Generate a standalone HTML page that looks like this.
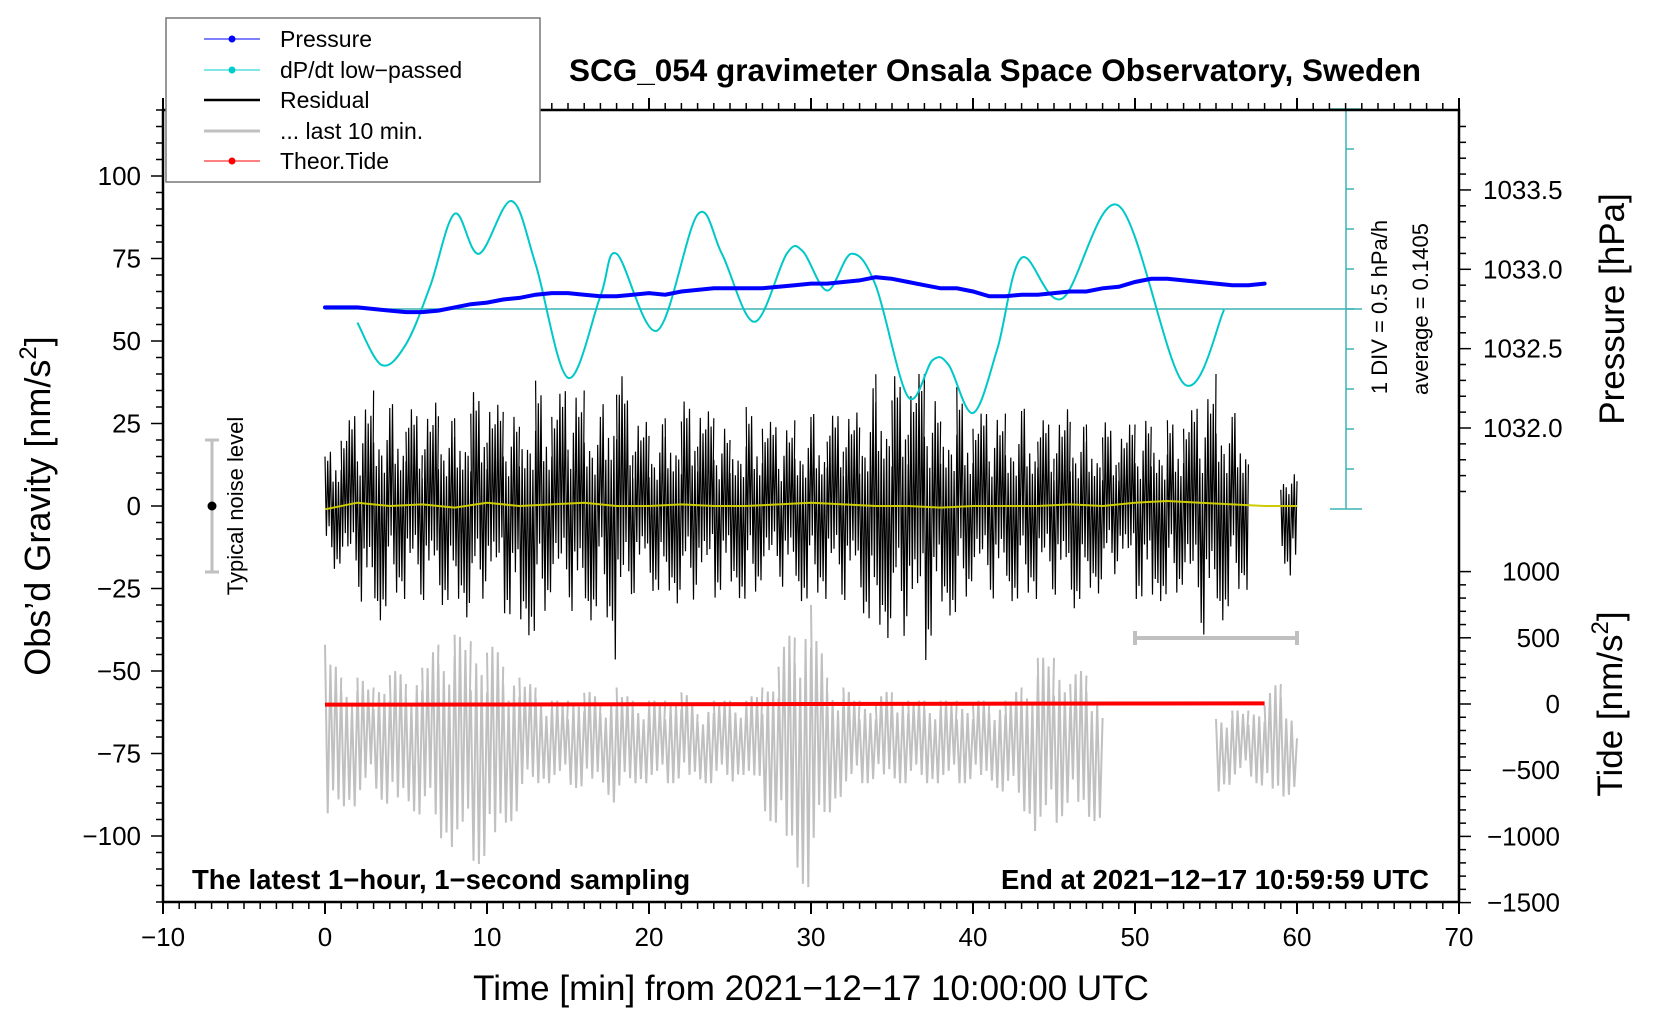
<!DOCTYPE html>
<html><head><meta charset="utf-8">
<style>
html,body{margin:0;padding:0;background:#fff;}
svg{display:block;font-family:"Liberation Sans",sans-serif;}
</style></head>
<body>
<svg id="chart" width="1660" height="1020" viewBox="0 0 1660 1020" xmlns="http://www.w3.org/2000/svg">
  <g id="series"></g>
  <rect x="163" y="110" width="1296" height="792" fill="none" stroke="#000" stroke-width="2.5"/>
  <g id="axes"></g>
  <text x="995" y="81" font-size="31.5" font-weight="bold" text-anchor="middle">SCG_054 gravimeter Onsala Space Observatory, Sweden</text>
  <text x="192" y="889" font-size="27.5" font-weight="bold">The latest 1−hour, 1−second sampling</text>
  <text x="1429" y="889" font-size="27.5" font-weight="bold" text-anchor="end">End at 2021−12−17 10:59:59 UTC</text>
  <text x="811" y="1000" font-size="35" text-anchor="middle">Time [min] from 2021−12−17 10:00:00 UTC</text>
  <text transform="translate(50,506) rotate(-90)" font-size="36" text-anchor="middle">Obs’d Gravity [nm/s<tspan font-size="24" dy="-14">2</tspan><tspan dy="14">]</tspan></text>
  <text transform="translate(1624,309) rotate(-90)" font-size="35" text-anchor="middle">Pressure [hPa]</text>
  <text transform="translate(1622,704) rotate(-90)" font-size="35" text-anchor="middle">Tide [nm/s<tspan font-size="24" dy="-14">2</tspan><tspan dy="14">]</tspan></text>
  <text transform="translate(1387,307) rotate(-90)" font-size="22" text-anchor="middle">1 DIV = 0.5 hPa/h</text>
  <text transform="translate(1428,309) rotate(-90)" font-size="22" text-anchor="middle">average = 0.1405</text>
  <text transform="translate(243,506) rotate(-90)" font-size="22" text-anchor="middle">Typical noise level</text>
  <g stroke="#c0c0c0" stroke-width="3">
    <line x1="212" y1="440" x2="212" y2="572"/><line x1="205" y1="440" x2="219" y2="440"/><line x1="205" y1="572" x2="219" y2="572"/>
  </g>
  <circle cx="212" cy="506" r="4.5" fill="#000"/>
  <g stroke="#c0c0c0" stroke-width="4">
    <line x1="1135" y1="638" x2="1297" y2="638"/><line x1="1135" y1="631" x2="1135" y2="645"/><line x1="1297" y1="631" x2="1297" y2="645"/>
  </g>
  <g>
    <rect x="166" y="18" width="374" height="164" fill="#fff" stroke="#777" stroke-width="1.5"/>
    <g><line x1="204" y1="39" x2="260" y2="39" stroke="#00f" stroke-width="1"/><circle cx="232" cy="39" r="3.5" fill="#00f"/><text x="280" y="47" font-size="23">Pressure</text></g>
    <g><line x1="204" y1="70" x2="260" y2="70" stroke="#00cccc" stroke-width="1"/><circle cx="232" cy="70" r="3.5" fill="#00cccc"/><text x="280" y="78" font-size="23">dP/dt low−passed</text></g>
    <g><line x1="204" y1="100" x2="260" y2="100" stroke="#000" stroke-width="2.5"/><text x="280" y="108" font-size="23">Residual</text></g>
    <g><line x1="204" y1="131" x2="260" y2="131" stroke="#c0c0c0" stroke-width="3"/><text x="280" y="139" font-size="23">... last 10 min.</text></g>
    <g><line x1="204" y1="161" x2="260" y2="161" stroke="#f00" stroke-width="1"/><circle cx="232" cy="161" r="3.5" fill="#f00"/><text x="280" y="169" font-size="23">Theor.Tide</text></g>
  </g>
</svg>
<script>
// ---- data ----
const minutes = [0,1,2,3,4,5,6,7,8,9,10,11,12,13,14,15,16,17,18,19,20,21,22,23,24,25,26,27,28,29,30,31,32,33,34,35,36,37,38,39,40,41,42,43,44,45,46,47,48,49,50,51,52,53,54,55,56,57,58,59,60];
const residualHi = [15,22,30,35,33,30,28,32,28,35,32,30,30,38,30,38,35,30,45,28,25,28,32,30,28,25,30,26,25,26,30,26,30,28,42,40,36,42,32,36,26,30,28,32,26,26,30,26,26,22,26,30,26,26,32,40,30,28,null,14,10];
const residualLo = [-20,-22,-28,-38,-30,-28,-30,-30,-30,-35,-30,-32,-38,-40,-32,-32,-38,-30,-48,-28,-25,-28,-30,-32,-28,-25,-30,-28,-25,-28,-30,-28,-30,-30,-40,-40,-45,-48,-32,-34,-28,-30,-28,-30,-28,-28,-32,-28,-26,-22,-28,-30,-28,-30,-42,-38,-30,-25,null,-14,-28];
const grayTop = [-42,-52,-52,-55,-49,-52,-49,-42,-39,-41,-41,-46,-52,-55,-59,-59,-55,-59,-55,-59,-59,-59,-55,-62,-59,-59,-59,-55,-46,-36,-30,-52,-55,-59,-59,-55,-59,-59,-59,-59,-59,-59,-59,-55,-46,-46,-52,-49,-59,null,null,null,null,null,null,-62,-62,-62,-59,-52,-68];
const grayBot = [-104,-91,-91,-84,-94,-91,-94,-100,-104,-107,-110,-100,-91,-84,-84,-84,-87,-84,-91,-84,-84,-84,-84,-84,-84,-84,-81,-91,-100,-113,-116,-94,-87,-84,-84,-84,-84,-84,-84,-84,-84,-84,-87,-91,-100,-97,-91,-97,-94,null,null,null,null,null,null,-87,-84,-81,-87,-91,-84];
const pressure = [1032.76,1032.76,1032.76,1032.75,1032.74,1032.73,1032.73,1032.74,1032.76,1032.78,1032.79,1032.81,1032.82,1032.84,1032.85,1032.85,1032.84,1032.83,1032.83,1032.84,1032.85,1032.84,1032.86,1032.87,1032.88,1032.88,1032.88,1032.88,1032.89,1032.9,1032.91,1032.91,1032.92,1032.93,1032.95,1032.94,1032.92,1032.9,1032.88,1032.88,1032.86,1032.83,1032.83,1032.84,1032.84,1032.85,1032.86,1032.86,1032.88,1032.89,1032.92,1032.94,1032.94,1032.93,1032.92,1032.91,1032.9,1032.9,1032.91,null,1032.88];
const yellowTimes = [0,2,4,6,8,10,12,14,16,18,20,22,24,26,28,30,32,34,36,38,40,42,44,46,48,50,52,54,56,58,60];
const yellowVals = [-1,1,0,0.5,-0.5,1,0,0.5,1,0,0,0.5,0,0,0.5,1,0.5,0,0,-0.5,0,0,0,0.5,0,1,1.5,1,0.5,0,0];
const dpdtTimes = [2,3.5,5,6.5,8,9.5,11.5,13,15,17,18,20.5,23,24.5,26.5,28.5,29.5,31,32.5,34,36,37.5,38.5,40,41.5,43,45.5,49,53,55.5];
const dpdtVals = [-0.17,-0.70,-0.44,0.29,1.19,0.69,1.35,0.56,-0.86,0.16,0.69,-0.27,1.18,0.69,-0.16,0.69,0.72,0.23,0.69,0.29,-1.10,-0.64,-0.70,-1.30,-0.50,0.64,0.13,1.29,-0.93,-0.01];
const tideTimes = [0,10,20,30,40,50,58,59.3,60.5];
const tideVals = [-5,-4,-2,0,2,4,5,null,6];
const xTicks = [-10,0,10,20,30,40,50,60,70];
const yTicks = [100,75,50,25,0,-25,-50,-75,-100];
const pTicks = ["1032.0","1032.5","1033.0","1033.5"];
const tTicks = [1000,500,0,-500,-1000,-1500];
const dpdtAverage = 0.1405;

// ---- scales ----
const X = t => 325 + 16.2 * t;
const YL = v => 506 - 3.3 * v;
const YP = p => 428 - (p - 1032) * 158.7;
const YT = v => 704 - 0.1324 * v;
const YD = v => 309 - (v - 0) / 0.5 * 40;
const NS = "http://www.w3.org/2000/svg";
const series = document.getElementById('series');
const axes = document.getElementById('axes');
function mk(tag, attrs, parent) {
  const e = document.createElementNS(NS, tag);
  for (const k in attrs) e.setAttribute(k, attrs[k]);
  parent.appendChild(e);
  return e;
}

// gray last 10 min
{
  const gp = [1, 0.7, 0.9, 0.55, 1, 0.8];
  let d = '';
  for (let i = 0; i < minutes.length - 1; i++) {
    if (grayTop[i] == null || grayTop[i+1] == null) continue;
    const n = 6;
    for (let k = 0; k <= n; k++) {
      const f = k / n, t = minutes[i] + f;
      const top = grayTop[i] + (grayTop[i+1] - grayTop[i]) * f;
      const bot = grayBot[i] + (grayBot[i+1] - grayBot[i]) * f;
      const mid = (top + bot) / 2;
      const m = gp[(i * 5 + k) % gp.length];
      const v = mid + ((k % 2 === 0) ? (top - mid) : (bot - mid)) * m;
      d += (k === 0 ? 'M' : 'L') + X(t).toFixed(1) + ' ' + YL(v).toFixed(1);
    }
  }
  const p = mk('path', {d, fill: 'none', stroke: '#c0c0c0', 'stroke-width': 2}, series);
  
  
}
// residual
{
  const pat = [1, 0.45, 0.85, 0.3, 0.95, 0.6, 0.4, 0.9, 0.55, 0.75, 0.35, 0.8, 0.5];
  let d = '';
  for (let i = 0; i < minutes.length - 1; i++) {
    if (residualHi[i] == null || residualHi[i+1] == null) continue;
    const n = 12;
    for (let k = 0; k <= n; k++) {
      const f = k / n, t = minutes[i] + f;
      const hi = residualHi[i] + (residualHi[i+1] - residualHi[i]) * f;
      const lo = residualLo[i] + (residualLo[i+1] - residualLo[i]) * f;
      const m = pat[(i * 7 + k) % pat.length];
      const v = (k % 2 === 0) ? hi * m : lo * m;
      d += (k === 0 ? 'M' : 'L') + X(t).toFixed(1) + ' ' + YL(v).toFixed(1);
    }
  }
  const p = mk('path', {d, fill: 'none', stroke: '#000', 'stroke-width': 1.2}, series);
  
  
}
// yellow
{
  const d = yellowTimes.map((t, i) => (i ? 'L' : 'M') + X(t) + ' ' + YL(yellowVals[i])).join('');
  const p = mk('path', {d, fill: 'none', stroke: '#cccc00', 'stroke-width': 2}, series);
  
  
}
// tide
{
  let d = '', pen = false;
  tideTimes.forEach((t, i) => {
    if (tideVals[i] == null) { pen = false; return; }
    d += (pen ? 'L' : 'M') + X(t) + ' ' + YT(tideVals[i]); pen = true;
  });
  const p = mk('path', {d, fill: 'none', stroke: '#f00', 'stroke-width': 4}, series);
  
  
}
// dP/dt scale bar + average line
{
  const g = mk('g', {stroke: '#3cb3b3', 'stroke-width': 1.5}, series);
  
  
  mk('line', {x1: 1346, y1: YD(2.5), x2: 1346, y2: YD(-2.5)}, g);
  mk('line', {x1: 1330, y1: YD(2.5), x2: 1362, y2: YD(2.5)}, g);
  mk('line', {x1: 1330, y1: YD(-2.5), x2: 1362, y2: YD(-2.5)}, g);
  for (let v = -2; v <= 2; v += 0.5) mk('line', {x1: 1346, y1: YD(v), x2: 1354, y2: YD(v)}, g);
  const a = mk('line', {x1: X(0), y1: YD(0), x2: 1362, y2: YD(0), stroke: '#3cb3b3', 'stroke-width': 1.5}, series);
  
  
}
// dP/dt curve (Catmull-Rom)
{
  const pts = dpdtTimes.map((t, i) => [X(t), YD(dpdtVals[i])]);
  let d = 'M' + pts[0][0] + ' ' + pts[0][1];
  for (let i = 0; i < pts.length - 1; i++) {
    const p0 = pts[Math.max(0, i-1)], p1 = pts[i], p2 = pts[i+1], p3 = pts[Math.min(pts.length-1, i+2)];
    const c1 = [p1[0] + (p2[0]-p0[0])/6, p1[1] + (p2[1]-p0[1])/6];
    const c2 = [p2[0] - (p3[0]-p1[0])/6, p2[1] - (p3[1]-p1[1])/6];
    d += 'C' + c1.join(' ') + ' ' + c2.join(' ') + ' ' + p2.join(' ');
  }
  const p = mk('path', {d, fill: 'none', stroke: '#00c8c8', 'stroke-width': 2}, series);
  
  
}
// pressure
{
  let d = '', pen = false;
  minutes.forEach((t, i) => {
    if (pressure[i] == null) { pen = false; return; }
    d += (pen ? 'L' : 'M') + X(t) + ' ' + YP(pressure[i]).toFixed(1); pen = true;
  });
  const p = mk('path', {d, fill: 'none', stroke: '#0000ff', 'stroke-width': 4, 'stroke-linecap': 'round'}, series);
  
  
}

// ---- axes ----
{
  const g = mk('g', {stroke: '#000', 'stroke-width': 1.5}, axes);
  
  
  for (let t = -10; t <= 70; t++) {
    const big = t % 10 === 0;
    mk('line', {x1: X(t), y1: 902, x2: X(t), y2: big ? 914 : 909, 'stroke-width': big ? 2 : 1.5}, g);
    mk('line', {x1: X(t), y1: 110, x2: X(t), y2: big ? 98 : 103, 'stroke-width': big ? 2 : 1.5}, g);
  }
  for (let v = -120; v <= 120; v += 5) {
    const big = v % 25 === 0;
    mk('line', {x1: 163, y1: YL(v), x2: big ? 151 : 156, y2: YL(v)}, g);
  }
  for (let p = 1031.6; p <= 1033.9; p += 0.1) {
    const big = Math.abs(p * 2 - Math.round(p * 2)) < 0.01;
    mk('line', {x1: 1459, y1: YP(p), x2: big ? 1471 : 1466, y2: YP(p)}, g);
  }
  for (let v = -1500; v <= 1000; v += 100) {
    const big = v % 500 === 0;
    mk('line', {x1: 1459, y1: YT(v), x2: big ? 1471 : 1466, y2: YT(v)}, g);
  }
}
xTicks.forEach(t => {
  const e = mk('text', {x: X(t), y: 946, 'font-size': 26, 'text-anchor': 'middle'}, axes);
  
  
  e.textContent = String(t).replace('-', '−');
});
yTicks.forEach(v => {
  const e = mk('text', {x: 141, y: YL(v) + 9, 'font-size': 26, 'text-anchor': 'end'}, axes);
  
  
  e.textContent = String(v).replace('-', '−');
});
pTicks.forEach(v => {
  const e = mk('text', {x: 1483, y: YP(parseFloat(v)) + 9, 'font-size': 26}, axes);
  
  
  e.textContent = v;
});
tTicks.forEach(v => {
  const e = mk('text', {x: 1560, y: YT(v) + 9, 'font-size': 26, 'text-anchor': 'end'}, axes);
  
  
  e.textContent = String(v).replace('-', '−');
});
</script>
</body></html>
